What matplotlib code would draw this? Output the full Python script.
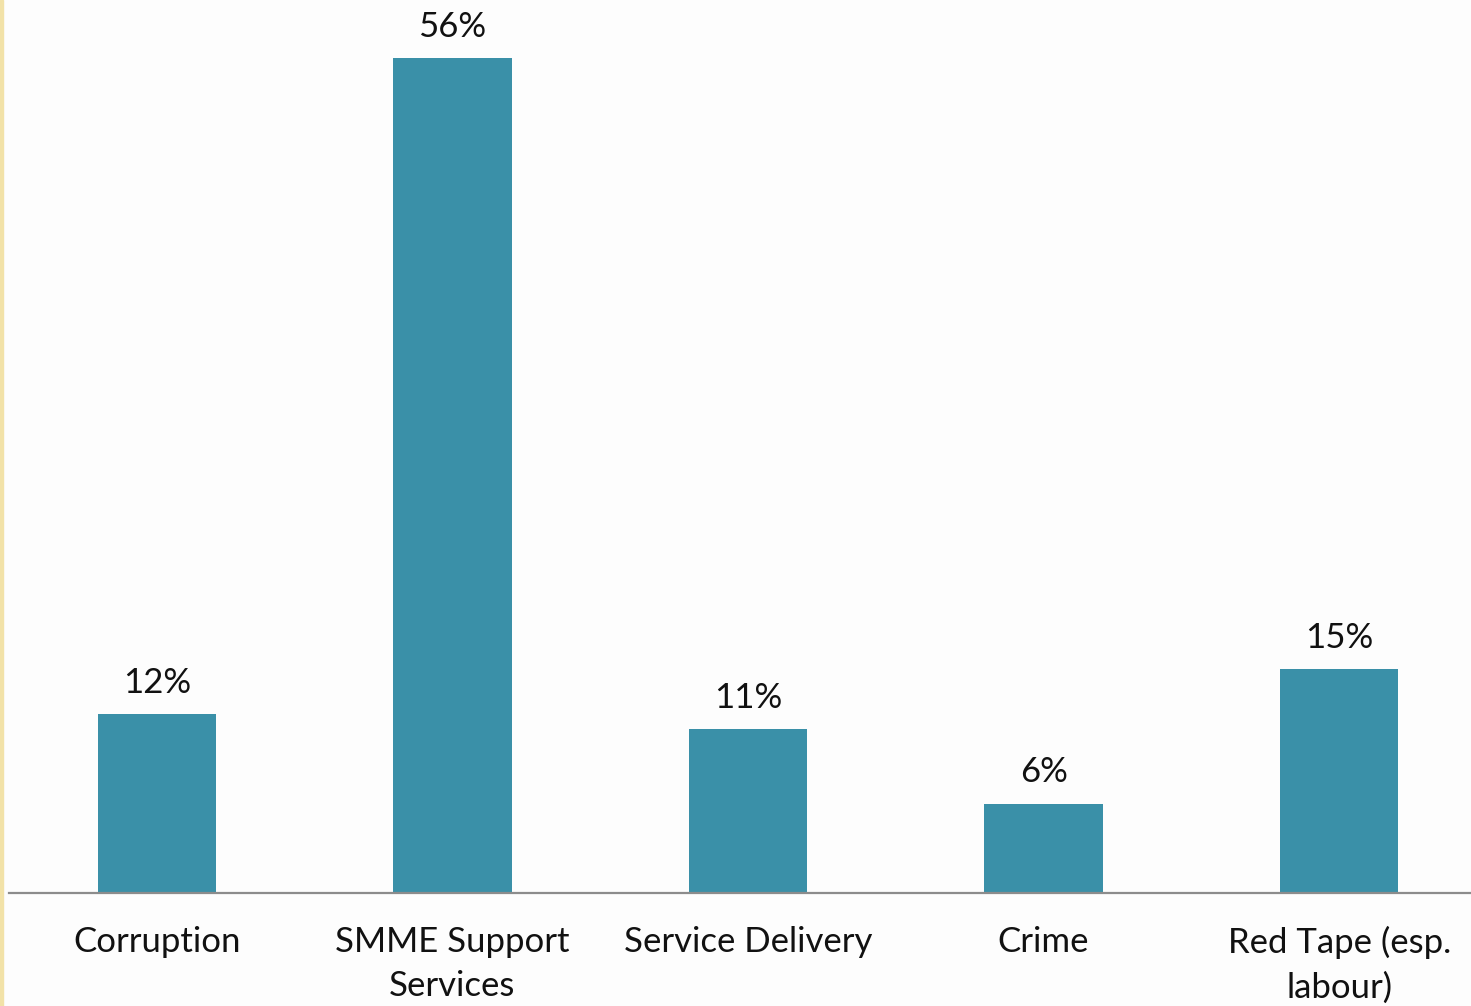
import matplotlib.pyplot as plt
from matplotlib.patches import Rectangle

# survey results: share of respondents per issue
categories = ['Corruption', 'SMME Support\nServices', 'Service Delivery', 'Crime', 'Red Tape (esp.\nlabour)']
values = [12, 56, 11, 6, 15]
labels = ['12%', '56%', '11%', '6%', '15%']

plt.rcParams['font.family'] = ['Lato', 'DejaVu Sans']

W, H = 1471, 1006
fig = plt.figure(figsize=(W / 100, H / 100), dpi=100)
fig.patch.set_facecolor('#fdfdfd')

# axes runs a little past the right edge so the bars keep even spacing
ax = fig.add_axes([9 / W, 113 / H, 1478 / W, 893 / H])
ax.set_facecolor('none')

x = list(range(len(categories)))
bars = ax.bar(x, values, width=0.4, color='#3a90a8')

ax.set_xlim(-0.5, 4.5)
ax.set_ylim(0, 56 * 893 / 835)

for b, lab in zip(bars, labels):
    ax.annotate(lab, (b.get_x() + b.get_width() / 2, b.get_height()),
                xytext=(0, 11), textcoords='offset points',
                ha='center', va='bottom', fontsize=25, color='#111111')

ax.set_xticks(x)
ax.set_xticklabels(categories, fontsize=25, color='#111111', linespacing=1.45)
ax.tick_params(axis='x', length=0, pad=24)
ax.set_yticks([])

for s in ['top', 'right', 'left']:
    ax.spines[s].set_visible(False)
ax.spines['bottom'].set_color('#8c8c8c')
ax.spines['bottom'].set_linewidth(1.6)

# thin yellow strip on the left edge
fig.add_artist(Rectangle((0, 0), 2.5 / W, 1, transform=fig.transFigure,
                         color='#f2e2a8', zorder=5))

fig.savefig('out.png', dpi=100, facecolor=fig.get_facecolor())
